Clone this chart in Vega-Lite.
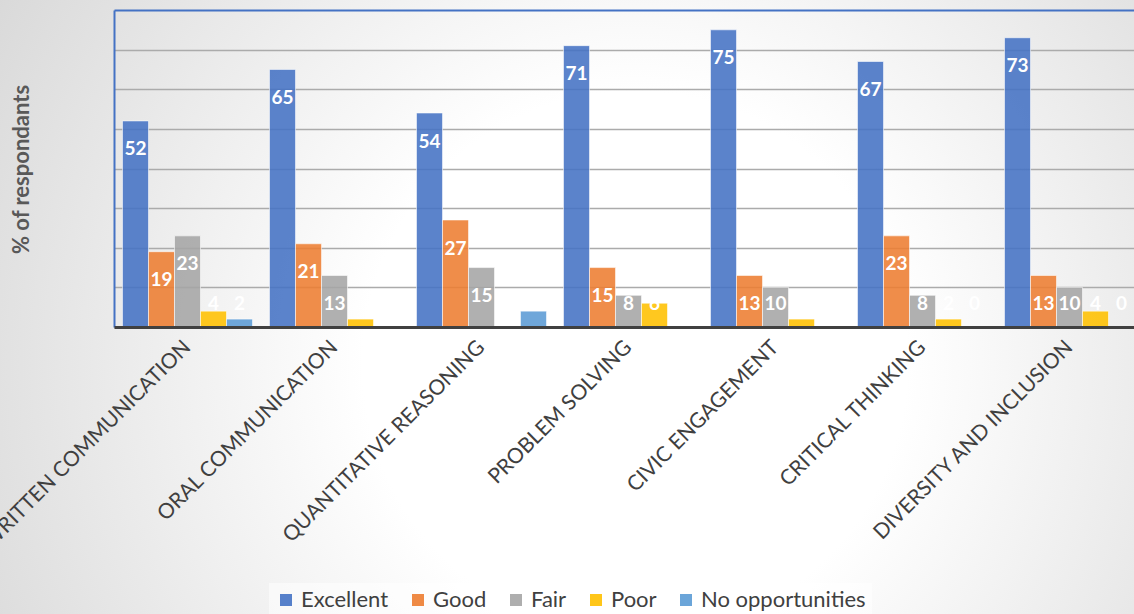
{
  "$schema": "https://vega.github.io/schema/vega-lite/v6.json",
  "width": 1134,
  "height": 614,
  "autosize": {"type": "none"},
  "padding": 0,
  "background": "#ffffff",
  "view": {
    "stroke": null,
    "fill": {
      "gradient": "radial",
      "x1": 0.56, "y1": 0.55, "r1": 0,
      "x2": 0.56, "y2": 0.55, "r2": 0.8,
      "stops": [
        {"offset": 0, "color": "#ffffff"},
        {"offset": 0.3, "color": "#ffffff"},
        {"offset": 1, "color": "#cbcbcb"}
      ]
    }
  },
  "data": {
    "values": [
      {"skill": "WRITTEN COMMUNICATION", "rating": "Excellent", "pct": 52, "label": "52"},
      {"skill": "WRITTEN COMMUNICATION", "rating": "Good", "pct": 19, "label": "19"},
      {"skill": "WRITTEN COMMUNICATION", "rating": "Fair", "pct": 23, "label": "23"},
      {"skill": "WRITTEN COMMUNICATION", "rating": "Poor", "pct": 4, "label": "4"},
      {"skill": "WRITTEN COMMUNICATION", "rating": "No opportunities", "pct": 2, "label": "2"},
      {"skill": "ORAL COMMUNICATION", "rating": "Excellent", "pct": 65, "label": "65"},
      {"skill": "ORAL COMMUNICATION", "rating": "Good", "pct": 21, "label": "21"},
      {"skill": "ORAL COMMUNICATION", "rating": "Fair", "pct": 13, "label": "13"},
      {"skill": "ORAL COMMUNICATION", "rating": "Poor", "pct": 2, "label": null},
      {"skill": "ORAL COMMUNICATION", "rating": "No opportunities", "pct": 0, "label": null},
      {"skill": "QUANTITATIVE REASONING", "rating": "Excellent", "pct": 54, "label": "54"},
      {"skill": "QUANTITATIVE REASONING", "rating": "Good", "pct": 27, "label": "27"},
      {"skill": "QUANTITATIVE REASONING", "rating": "Fair", "pct": 15, "label": "15"},
      {"skill": "QUANTITATIVE REASONING", "rating": "Poor", "pct": 0, "label": null},
      {"skill": "QUANTITATIVE REASONING", "rating": "No opportunities", "pct": 4, "label": null},
      {"skill": "PROBLEM SOLVING", "rating": "Excellent", "pct": 71, "label": "71"},
      {"skill": "PROBLEM SOLVING", "rating": "Good", "pct": 15, "label": "15"},
      {"skill": "PROBLEM SOLVING", "rating": "Fair", "pct": 8, "label": "8"},
      {"skill": "PROBLEM SOLVING", "rating": "Poor", "pct": 6, "label": "6"},
      {"skill": "PROBLEM SOLVING", "rating": "No opportunities", "pct": 0, "label": null},
      {"skill": "CIVIC ENGAGEMENT", "rating": "Excellent", "pct": 75, "label": "75"},
      {"skill": "CIVIC ENGAGEMENT", "rating": "Good", "pct": 13, "label": "13"},
      {"skill": "CIVIC ENGAGEMENT", "rating": "Fair", "pct": 10, "label": "10"},
      {"skill": "CIVIC ENGAGEMENT", "rating": "Poor", "pct": 2, "label": null},
      {"skill": "CIVIC ENGAGEMENT", "rating": "No opportunities", "pct": 0, "label": null},
      {"skill": "CRITICAL THINKING", "rating": "Excellent", "pct": 67, "label": "67"},
      {"skill": "CRITICAL THINKING", "rating": "Good", "pct": 23, "label": "23"},
      {"skill": "CRITICAL THINKING", "rating": "Fair", "pct": 8, "label": "8"},
      {"skill": "CRITICAL THINKING", "rating": "Poor", "pct": 2, "label": "2"},
      {"skill": "CRITICAL THINKING", "rating": "No opportunities", "pct": 0, "label": "0"},
      {"skill": "DIVERSITY AND INCLUSION", "rating": "Excellent", "pct": 73, "label": "73"},
      {"skill": "DIVERSITY AND INCLUSION", "rating": "Good", "pct": 13, "label": "13"},
      {"skill": "DIVERSITY AND INCLUSION", "rating": "Fair", "pct": 10, "label": "10"},
      {"skill": "DIVERSITY AND INCLUSION", "rating": "Poor", "pct": 4, "label": "4"},
      {"skill": "DIVERSITY AND INCLUSION", "rating": "No opportunities", "pct": 0, "label": "0"}
    ]
  },
  "encoding": {
    "x": {
      "field": "skill",
      "type": "nominal",
      "sort": null,
      "scale": {"range": [114, 1143], "paddingInner": 0.1156, "paddingOuter": 0.0578},
      "axis": {
        "title": null,
        "labelAngle": -45,
        "labelAlign": "right",
        "labelBaseline": "middle",
        "labelFont": "Lato",
        "labelFontSize": 21,
        "labelColor": "#404040",
        "labelPadding": 17,
        "labelOverlap": false,
        "labelLimit": 0,
        "labelBound": false,
        "ticks": false,
        "domainColor": "#404040",
        "domainWidth": 3,
        "offset": -287,
        "zindex": 1
      }
    },
    "xOffset": {
      "field": "rating",
      "type": "nominal",
      "sort": ["Excellent", "Good", "Fair", "Poor", "No opportunities"]
    },
    "y": {
      "field": "pct",
      "type": "quantitative",
      "scale": {"domain": [0, 80], "range": [327, 10], "nice": false},
      "axis": {
        "title": "% of respondants",
        "values": [0, 10, 20, 30, 40, 50, 60, 70, 80],
        "labels": false,
        "ticks": false,
        "domainColor": "#4472c4",
        "domainWidth": 2,
        "offset": -114,
        "grid": true,
        "gridColor": {"condition": {"test": "datum.value == 80", "value": "#4472c4"}, "value": "#ababab"},
        "gridWidth": {"condition": {"test": "datum.value == 80", "value": 2}, "value": 1.5},
        "titleFont": "Lato",
        "titleFontSize": 22,
        "titleFontWeight": "bold",
        "titleColor": "#595959",
        "titleAngle": -90,
        "titleAlign": "center",
        "titleBaseline": "middle",
        "titleX": -93,
        "titleY": 169
      }
    }
  },
  "layer": [
    {
      "mark": {"type": "bar", "fillOpacity": 0.88, "stroke": "#ffffff", "strokeOpacity": 0.55, "strokeWidth": 1},
      "encoding": {
        "color": {
          "field": "rating",
          "type": "nominal",
          "scale": {
            "domain": ["Excellent", "Good", "Fair", "Poor", "No opportunities"],
            "range": ["#4472c4", "#ed7d31", "#a5a5a5", "#ffc000", "#5b9bd5"]
          },
          "legend": {
            "orient": "none",
            "legendX": 269,
            "legendY": 583,
            "direction": "horizontal",
            "title": null,
            "symbolType": "square",
            "symbolSize": 144,
            "symbolStrokeWidth": 0,
            "symbolOpacity": 0.9,
            "labelFont": "Lato",
            "labelFontSize": 22,
            "labelColor": "#404040",
            "labelLimit": 0,
            "labelOffset": 4,
            "columnPadding": 18,
            "padding": 6,
            "fillColor": "rgba(255,255,255,0.5)"
          }
        }
      }
    },
    {
      "transform": [
        {"filter": "datum.label != null"},
        {"calculate": "max(datum.pct - 7.2, 5.9)", "as": "labelPos"}
      ],
      "mark": {"type": "text", "color": "#ffffff", "font": "Lato", "fontSize": 19, "fontWeight": "bold", "baseline": "middle"},
      "encoding": {
        "y": {"field": "labelPos", "type": "quantitative"},
        "text": {"field": "label", "type": "nominal"}
      }
    }
  ]
}
